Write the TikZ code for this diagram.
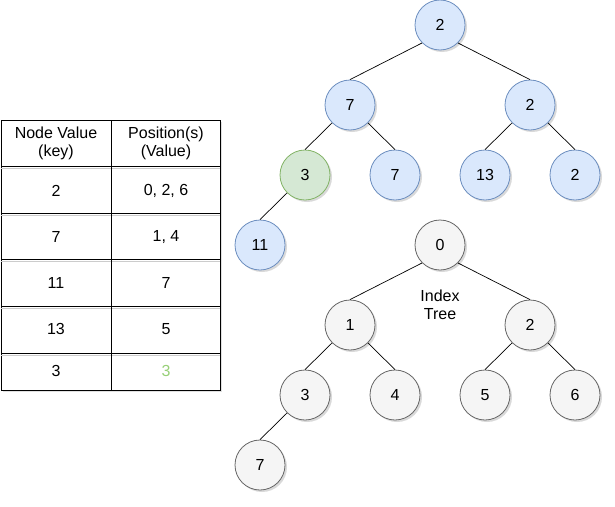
\documentclass[tikz,border=0pt]{standalone}
\usepackage{fontspec}
\setmainfont{Liberation Sans}
\usetikzlibrary{shadows}
\definecolor{bluefill}{HTML}{DAE8FC}
\definecolor{bluedraw}{HTML}{6C8EBF}
\definecolor{greenfill}{HTML}{D5E8D4}
\definecolor{greendraw}{HTML}{82B366}
\definecolor{greytext}{HTML}{97D077}
\definecolor{greyfill}{HTML}{F5F5F5}
\definecolor{greydraw}{HTML}{666666}
\tikzset{
  soft shadow/.style={drop shadow={shadow xshift=2pt, shadow yshift=-2pt, opacity=0.25, fill=black!60}},
  treenode/.style={circle, minimum size=50pt, inner sep=0pt, line width=0.8pt, soft shadow, font=\fontsize{16}{18}\selectfont},
  valnode/.style={treenode, fill=bluefill, draw=bluedraw},
  hitnode/.style={treenode, fill=greenfill, draw=greendraw},
  idxnode/.style={treenode, fill=greyfill, draw=greydraw},
  link/.style={draw=black, line width=0.7pt},
  cell/.style={font=\fontsize{16}{18}\selectfont, align=center, inner sep=0pt},
}
\begin{document}
\begin{tikzpicture}[x=1pt, y=-1pt]
\useasboundingbox (0,0) rectangle (615,506);

% ---- value tree ----
\node[valnode] (v0) at (440,25) {2};
\node[valnode] (v1) at (350,105) {7};
\node[valnode] (v2) at (530,105) {2};
\node[hitnode] (v3) at (305,175) {3};
\node[valnode] (v4) at (395,175) {7};
\node[valnode] (v5) at (485,175) {13};
\node[valnode] (v6) at (575,175) {2};
\node[valnode] (v7) at (260,245) {11};

\draw[link] (v0.south west) -- (v1.north);
\draw[link] (v0.south east) -- (v2.north);
\draw[link] (v1.south west) -- (v3.north);
\draw[link] (v1.south east) -- (v4.north);
\draw[link] (v2.south west) -- (v5.north);
\draw[link] (v2.south east) -- (v6.north);
\draw[link] (v3.south west) -- (v7.north);

% ---- index tree ----
\node[idxnode] (i0) at (440,245) {0};
\node[idxnode] (i1) at (350,325) {1};
\node[idxnode] (i2) at (530,325) {2};
\node[idxnode] (i3) at (305,395) {3};
\node[idxnode] (i4) at (395,395) {4};
\node[idxnode] (i5) at (485,395) {5};
\node[idxnode] (i6) at (575,395) {6};
\node[idxnode] (i7) at (260,465) {7};
\node[cell] (idxlabel) at (440,305) {Index\\Tree};

\draw[link] (i0.south west) -- (i1.north);
\draw[link] (i0.south east) -- (i2.north);
\draw[link] (i1.south west) -- (i3.north);
\draw[link] (i1.south east) -- (i4.north);
\draw[link] (i2.south west) -- (i5.north);
\draw[link] (i2.south east) -- (i6.north);
\draw[link] (i3.south west) -- (i7.north);

% ---- lookup table ----
\fill[black!60, opacity=0.2] (3,122) rectangle (222,392);
\draw[fill=white, line width=0.8pt] (1,120) rectangle (220,390);
\foreach \yy in {166,213,259,306,353}{
  \draw[black!20, line width=0.8pt] (1,\yy+2) -- (220,\yy+2);
  \draw[line width=0.8pt] (1,\yy) -- (220,\yy);
}
\draw[line width=0.8pt] (111,120) -- (111,390);

\node[cell] (h1) at (56,143) {Node Value\\(key)};
\node[cell] (h2) at (166,143) {Position(s)\\(Value)};
\node[cell] (k1) at (56,191) {2};
\node[cell] (p1) at (166,191) {0, 2, 6};
\node[cell] (k2) at (56,237) {7};
\node[cell] (p2) at (166,237) {1, 4};
\node[cell] (k3) at (56,283) {11};
\node[cell] (p3) at (166,283) {7};
\node[cell] (k4) at (56,329) {13};
\node[cell] (p4) at (166,329) {5};
\node[cell] (k5) at (56,371) {3};
\node[cell, text=greytext] (p5) at (166,371) {3};
\end{tikzpicture}
\end{document}
